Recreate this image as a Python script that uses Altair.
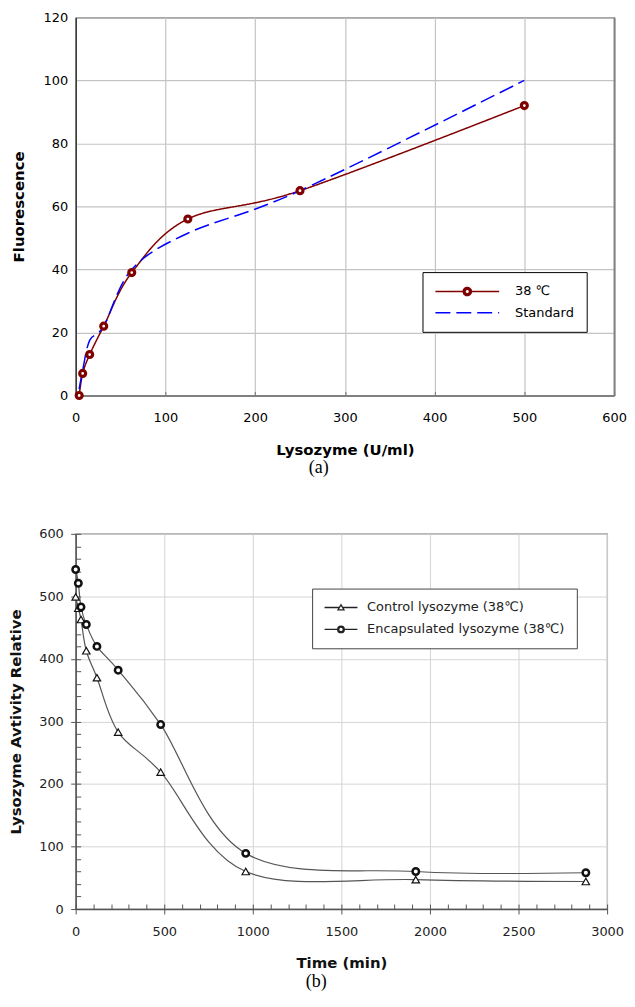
import altair as alt
import pandas as pd

FONT = "DejaVu Sans"
SERIF = "Liberation Serif"

# ---------------- panel (a) data ----------------
a_conc = [3.9, 7.8, 15.6, 31.25, 62.5, 125, 250, 500]
a_fluor_38 = [0, 7, 13, 22, 39, 56, 65, 92]
a_std_conc = [3.9, 7.8, 15.6, 31.25, 62.5, 125, 250, 500]
a_std_fluor = [2, 8, 17.5, 22, 40, 51.5, 65, 100]
a_series = ["38 ℃", "Standard"]
a_colors = ["#800000", "#0000ff"]
a_x_ticks = [0, 100, 200, 300, 400, 500, 600]
a_y_ticks = [0, 20, 40, 60, 80, 100, 120]

# ---------------- panel (b) data ----------------
b_time = [0, 15, 30, 60, 120, 240, 480, 960, 1920, 2880]
b_control = [499, 481, 463, 413, 370, 283, 219, 60, 47, 44]
b_encap = [543, 521, 483, 455, 420, 382, 295, 89, 60, 58]
b_series = ["Control lysozyme (38℃)", "Encapsulated lysozyme (38℃)"]
b_x_ticks = [0, 500, 1000, 1500, 2000, 2500, 3000]
b_x_minor = list(range(0, 3001, 100))
b_y_ticks = [0, 100, 200, 300, 400, 500, 600]
b_y_minor = list(range(0, 601, 20))

# legend symbol paths (unit = sqrt(symbolSize)/2 px; drawn from the entry start rightwards)
PATH_A_STD = "M-1,0H8.85"
PATH_A38 = ("M-1,0H3.295M4.555,0H8.85"
            "M4.555,0A0.63,0.63,0,1,1,3.295,0A0.63,0.63,0,1,1,4.555,0"
            "M4.415,0A0.49,0.49,0,1,1,3.435,0A0.49,0.49,0,1,1,4.415,0"
            "M4.27,0A0.345,0.345,0,1,1,3.58,0A0.345,0.345,0,1,1,4.27,0")
PATH_B_TRI = "M-1,0H1.29M1.79,0H4.08M1.54,-0.415L2.0,0.354L1.08,0.354Z"
PATH_B_CIR = ("M-1,0H1.03M2.05,0H4.08"
              "M2.05,0A0.51,0.51,0,1,1,1.03,0A0.51,0.51,0,1,1,2.05,0"
              "M1.894,0A0.354,0.354,0,1,1,1.186,0A0.354,0.354,0,1,1,1.894,0")

# ---------------- panel (a) ----------------
df_a = pd.DataFrame({
    "conc": a_conc + a_std_conc,
    "fluor": a_fluor_38 + a_std_fluor,
    "series": [a_series[0]] * len(a_conc) + [a_series[1]] * len(a_std_conc),
})
df_a38 = pd.DataFrame({"conc": a_conc, "fluor": a_fluor_38})

a_xscale = alt.Scale(domain=[0, 600], nice=False, zero=False)
a_yscale = alt.Scale(domain=[0, 120], nice=False, zero=False)
a_color_scale = alt.Scale(domain=a_series, range=a_colors)
a_dash_scale = alt.Scale(domain=a_series, range=[[1, 0], [15, 6]])

legend_a = alt.Legend(
    title=None, orient="none", legendX=348.5, legendY=256, direction="vertical",
    padding=12, strokeColor="black", fillColor="white", cornerRadius=0,
    labelFont=FONT, labelFontSize=13, labelColor="black", labelOffset=66,
    labelLimit=300, rowPadding=6.4, symbolSize=169, symbolStrokeWidth=1.5,
    symbolOpacity=1,
)

# invisible layer that only carries the legend (line + marker symbols)
a_key = alt.Chart(df_a).mark_point(opacity=0, filled=False).encode(
    x=alt.X("conc:Q", scale=a_xscale, axis=None),
    y=alt.Y("fluor:Q", scale=a_yscale, axis=None),
    color=alt.Color("series:N", scale=a_color_scale, legend=legend_a),
    strokeDash=alt.StrokeDash("series:N", scale=a_dash_scale, legend=legend_a),
    shape=alt.Shape("series:N", scale=alt.Scale(domain=a_series, range=[PATH_A38, PATH_A_STD]),
                    legend=legend_a),
)

a_line = alt.Chart(df_a).mark_line(interpolate="cardinal", strokeWidth=1.5).encode(
    x=alt.X("conc:Q", scale=a_xscale, axis=alt.Axis(
        values=a_x_ticks, title="Lysozyme (U/ml)", ticks=False, labelPadding=16,
        labelFlush=False, domainColor="#808080", domainWidth=2, grid=True,
        gridColor="#c4c4c4", gridWidth=1.2, titlePadding=18, labelColor="black",
        titleColor="black")),
    y=alt.Y("fluor:Q", scale=a_yscale, axis=alt.Axis(
        values=a_y_ticks, title="Fluorescence", ticks=False, labelPadding=8,
        domainColor="black", domainWidth=1, grid=True, gridColor="#c4c4c4",
        gridWidth=1.2, titlePadding=17, labelColor="black", titleColor="black")),
    color=alt.Color("series:N", scale=a_color_scale),
    strokeDash=alt.StrokeDash("series:N", scale=a_dash_scale),
)

a_pts = alt.Chart(df_a38).mark_point(
    shape="circle", size=36, filled=True, fill="white", stroke="#800000",
    strokeWidth=3.2, opacity=1,
).encode(
    x=alt.X("conc:Q", scale=a_xscale, axis=alt.Axis(
        orient="bottom", values=a_x_ticks, offset=-4, tickSize=4, tickColor="#808080",
        tickWidth=1.2, domain=False, labels=False, grid=False, title=None, minExtent=0)),
    y=alt.Y("fluor:Q", scale=a_yscale, axis=alt.Axis(
        orient="right", domain=True, domainColor="#808080", domainWidth=2, ticks=False,
        labels=False, grid=False, title=None, minExtent=0)),
)

pa = alt.layer(a_key, a_line, a_pts).resolve_axis(x="independent", y="independent").properties(
    width=541, height=380,
    view=alt.ViewBackground(stroke="black", strokeWidth=1),
    title=alt.Title("(a)", orient="bottom", anchor="middle", frame="bounds", font=SERIF,
                    fontSize=18, fontWeight="normal", color="black", offset=2),
)

# ---------------- panel (b) ----------------
df_b = pd.DataFrame({
    "time": b_time + b_time,
    "act": b_control + b_encap,
    "series": [b_series[0]] * len(b_time) + [b_series[1]] * len(b_time),
})

b_xscale = alt.Scale(domain=[0, 3000], nice=False, zero=False)
b_yscale = alt.Scale(domain=[0, 600], nice=False, zero=False)

legend_b = alt.Legend(
    title=None, orient="none", legendX=237.6, legendY=55, direction="vertical",
    padding=11.5, strokeColor="#444444", fillColor="white", cornerRadius=0,
    labelFont=FONT, labelFontSize=13, labelColor="#222222", labelOffset=28.7,
    labelLimit=400, rowPadding=7, symbolSize=169, symbolStrokeWidth=1.3,
    symbolStrokeColor="#222222", symbolFillColor="white", symbolOpacity=1,
)

b_line = alt.Chart(df_b).mark_line(interpolate="cardinal", color="#555555", strokeWidth=1.2).encode(
    x=alt.X("time:Q", scale=b_xscale, axis=alt.Axis(
        values=b_x_ticks, format="d", title="Time (min)", tickSize=5, tickColor="#555555",
        labelPadding=12, labelFlush=False, domainColor="#555555", domainWidth=1.5,
        grid=True, gridColor="#d4d4d4", gridWidth=1, titlePadding=17,
        labelColor="#222222", titleColor="#111111")),
    y=alt.Y("act:Q", scale=b_yscale, axis=alt.Axis(
        values=b_y_ticks, format="d", title="Lysozyme Avtivity Relative", tickSize=5,
        tickColor="#555555", labelPadding=7.4, domainColor="#555555", domainWidth=1.5,
        grid=True, gridColor="#d4d4d4", gridWidth=1, titlePadding=15,
        labelColor="#222222", titleColor="#111111")),
    detail="series:N",
)

b_pts = alt.Chart(df_b).mark_point(filled=True, fill="white", stroke="#111111", opacity=1).encode(
    x=alt.X("time:Q", scale=b_xscale, axis=alt.Axis(
        orient="bottom", values=b_x_minor, offset=-5, tickSize=5, tickColor="#555555",
        domain=False, labels=False, grid=False, title=None, minExtent=0)),
    y=alt.Y("act:Q", scale=b_yscale, axis=alt.Axis(
        orient="left", values=b_y_minor, offset=-5, tickSize=5, tickColor="#555555",
        domain=False, labels=False, grid=False, title=None, minExtent=0)),
    shape=alt.Shape("series:N", scale=alt.Scale(domain=b_series, range=["triangle-up", "circle"]),
                    legend=None),
    size=alt.Size("series:N", scale=alt.Scale(domain=b_series, range=[56, 42]), legend=None),
    strokeWidth=alt.StrokeWidth("series:N", scale=alt.Scale(domain=b_series, range=[1.2, 2.5]),
                                legend=None),
)

b_key = alt.Chart(df_b).mark_point(opacity=0, filled=False, color="#222222").encode(
    x=alt.X("time:Q", scale=b_xscale, axis=None),
    y=alt.Y("act:Q", scale=b_yscale, axis=None),
    shape=alt.Shape("series:N", scale=alt.Scale(domain=b_series, range=[PATH_B_TRI, PATH_B_CIR]),
                    legend=legend_b),
)

pb = alt.layer(b_line, b_pts, b_key).resolve_axis(x="independent", y="independent").resolve_scale(
    shape="independent"
).properties(
    width=534, height=377,
    view=alt.ViewBackground(stroke="#666666", strokeWidth=1.2),
    title=alt.Title("(b)", orient="bottom", anchor="middle", frame="bounds", font=SERIF,
                    fontSize=18, fontWeight="normal", color="black", offset=2),
)

chart = alt.vconcat(pa, pb, spacing=49).properties(
    padding={"left": 0, "top": 0, "right": 0, "bottom": 0},
).configure_axis(
    labelFont=FONT, labelFontSize=13, titleFont=FONT, titleFontSize=15,
    titleFontWeight="bold",
)

chart.save("out.html", embed_options={"renderer": "svg", "actions": False})
